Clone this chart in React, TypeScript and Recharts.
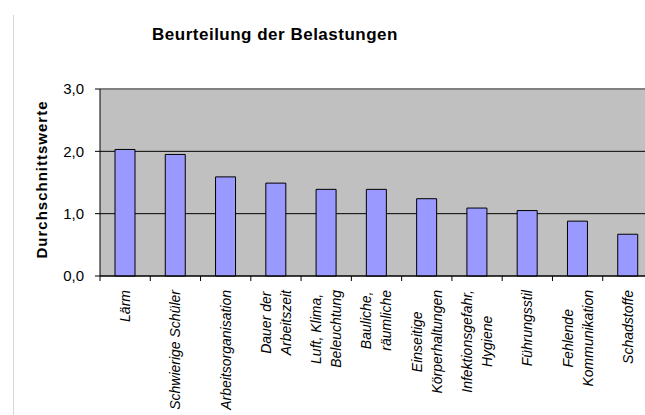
import { BarChart, Bar, XAxis, YAxis, CartesianGrid, ReferenceLine, Label } from 'recharts';

const categories = [
  'Lärm',
  'Schwierige Schüler',
  'Arbeitsorganisation',
  'Dauer der\nArbeitszeit',
  'Luft, Klima,\nBeleuchtung',
  'Bauliche,\nräumliche',
  'Einseitige\nKörperhaltungen',
  'Infektionsgefahr,\nHygiene',
  'Führungsstil',
  'Fehlende\nKommunikation',
  'Schadstoffe',
];
const values = [2.03, 1.95, 1.59, 1.49, 1.39, 1.39, 1.24, 1.09, 1.05, 0.88, 0.67];
const yTicks = [0, 1, 2, 3];

const data = categories.map((name, i) => ({ name, value: values[i] }));

const FONT = '"Liberation Sans", Arial, Helvetica, sans-serif';
const TICK_FONT_SIZE = 14;
const PLOT_W = 553;

let ctx: CanvasRenderingContext2D | null = null;
function textWidth(s: string, font: string) {
  if (!ctx) ctx = document.createElement('canvas').getContext('2d');
  if (!ctx) return s.length * 7;
  ctx.font = font;
  return ctx.measureText(s).width;
}

function CategoryTick(props: any) {
  const { x, y, payload } = props;
  const band = PLOT_W / categories.length;
  const lines = String(payload.value).split('\n');
  const font = `italic ${TICK_FONT_SIZE}px ${FONT}`;
  const maxW = Math.max(...lines.map((l) => textWidth(l, font)));
  const cy = y + 14 + maxW / 2;
  const gap = 20;
  return (
    <g>
      <line x1={x - band / 2} x2={x - band / 2} y1={y} y2={y + 5} stroke="#000" />
      {lines.map((line, i) => {
        const lx = x + (i - (lines.length - 1) / 2) * gap;
        return (
          <text
            key={i}
            x={lx}
            y={cy}
            transform={`rotate(-90 ${lx} ${cy})`}
            textAnchor="middle"
            dominantBaseline="central"
            fontFamily={FONT}
            fontSize={TICK_FONT_SIZE}
            fontStyle="italic"
            fill="#000"
          >
            {line}
          </text>
        );
      })}
    </g>
  );
}

function YLabel(props: any) {
  const vb = props.viewBox || { x: 0, y: 89, width: 100, height: 187 };
  const cx = 41;
  const cy = vb.y + vb.height / 2 - 3;
  return (
    <text
      x={cx}
      y={cy}
      transform={`rotate(-90 ${cx} ${cy})`}
      textAnchor="middle"
      dominantBaseline="central"
      fontFamily={FONT}
      fontSize={15}
      fontWeight="bold"
      letterSpacing={1}
      fill="#000"
    >
      Durchschnittswerte
    </text>
  );
}

export default function App() {
  return (
    <div
      style={{
        position: 'absolute',
        left: 0,
        top: 0,
        width: 645,
        height: 415,
        overflow: 'hidden',
        background: '#fff',
        fontFamily: FONT,
      }}
    >
      <div
        style={{
          position: 'absolute',
          left: 13,
          top: 15,
          height: 400,
          borderLeft: '1px solid #d9d9d9',
        }}
      />
      <div
        style={{
          position: 'absolute',
          left: 0,
          top: 25,
          width: 550,
          textAlign: 'center',
          fontSize: 17,
          lineHeight: '20px',
          fontWeight: 'bold',
          letterSpacing: 0.5,
          color: '#000',
        }}
      >
        Beurteilung der Belastungen
      </div>
      <div style={{ position: 'absolute', left: 0, top: 0 }}>
        <BarChart
          width={670}
          height={415}
          data={data}
          margin={{ top: 89, right: 17, bottom: 0, left: 0 }}
          barCategoryGap={0}
        >
          <CartesianGrid stroke="#000" vertical={false} fill="#c0c0c0" fillOpacity={1} />
          <XAxis
            dataKey="name"
            height={139}
            interval={0}
            tickSize={0}
            tickMargin={0}
            tickLine={false}
            axisLine={{ stroke: '#000' }}
            tick={<CategoryTick />}
          />
          <YAxis
            width={100}
            domain={[0, 3]}
            ticks={yTicks}
            tickSize={5}
            tickMargin={11}
            axisLine={{ stroke: '#000' }}
            tickLine={{ stroke: '#000' }}
            tick={{ fontSize: 15, fill: '#000', fontFamily: FONT }}
            tickFormatter={(v) => Number(v).toFixed(1).replace('.', ',')}
          >
            <Label content={<YLabel />} />
          </YAxis>
          <ReferenceLine y={3} stroke="#808080" strokeWidth={2} />
          <Bar
            dataKey="value"
            fill="#9999ff"
            stroke="#000"
            strokeWidth={1}
            barSize={20}
            isAnimationActive={false}
          />
        </BarChart>
      </div>
    </div>
  );
}
